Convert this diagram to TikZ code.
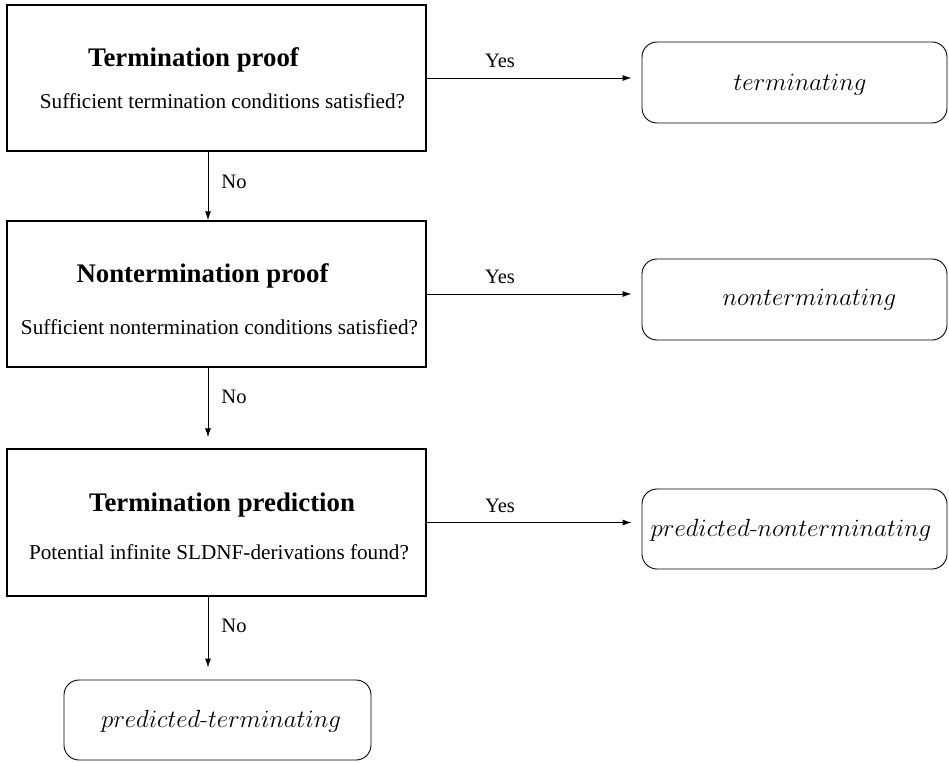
\documentclass[tikz,border=0pt]{standalone}
\usepackage{fontspec}
\setmainfont{Liberation Serif}
\usetikzlibrary{arrows.meta}
\newcommand{\lmhyph}{\mbox{\fontfamily{lmr}\selectfont -}}
\begin{document}
\begin{tikzpicture}[x=1pt,y=-1pt,
  procbox/.style={draw, line width=1.3pt, minimum width=419pt, minimum height=146pt, inner sep=0pt},
  resbox/.style={draw, line width=0.9pt, rounded corners=15pt, minimum width=305pt, minimum height=81pt, inner sep=0pt},
  titletext/.style={font=\fontsize{26.8}{32}\selectfont\bfseries, inner sep=0pt},
  subtext/.style={font=\fontsize{21.2}{25}\selectfont, inner sep=0pt},
  restext/.style={font=\fontsize{25.2}{30}\selectfont, inner sep=0pt},
  lbl/.style={font=\fontsize{20.5}{24}\selectfont, inner sep=0pt},
  arr/.style={-{Latex[length=9pt,width=6pt]}, line width=0.9pt}]
\useasboundingbox (0,0) rectangle (949,762);
% process boxes
\node[procbox] (b1) at (216.5,78) {};
\node[procbox] (b2) at (216.5,294) {};
\node[procbox, minimum height=147pt] (b3) at (216.5,522.5) {};
\node[titletext] (t1) at (193.5,60) {Termination proof};
\node[subtext] (s1) at (222.5,101) {Sufficient termination conditions satisfied?};
\node[titletext] (t2) at (202.5,276) {Nontermination proof};
\node[subtext] (s2) at (219.5,327) {Sufficient nontermination conditions satisfied?};
\node[titletext] (t3) at (222,505) {Termination prediction};
\node[subtext] (s3) at (219,552) {Potential infinite SLDNF-derivations found?};
% result boxes
\node[resbox] (r1) at (794.5,82.5) {};
\node[resbox] (r2) at (794.5,299.5) {};
\node[resbox, minimum height=80pt] (r3) at (794.5,529) {};
\node[resbox, minimum width=307pt, minimum height=80pt] (r4) at (217.5,720) {};
\node[restext] (rt1) at (800,85) {$terminating$};
\node[restext] (rt2) at (809.5,300) {$nonterminating$};
\node[restext] (rt3) at (791,530) {$predicted\lmhyph nonterminating$};
\node[restext] (rt4) at (221,721) {$predicted\lmhyph terminating$};
% connectors
\draw[arr, shorten >=10pt] (b1.east) -- (r1.west |- b1.east);
\draw[arr, shorten >=10pt] (b2.east) -- (r2.west |- b2.east);
\draw[arr, shorten >=10pt] (b3.east) -- (r3.west |- b3.east);
\coordinate (c1) at (208,151);
\draw[arr] (b1.south -| c1) -- (b2.north -| c1);
\draw[arr, shorten >=11pt] (b2.south -| c1) -- (b3.north -| c1);
\draw[arr, shorten >=12pt] (b3.south -| c1) -- (r4.north -| c1);
% labels
\node[lbl] (y1) at (500,61) {Yes};
\node[lbl] (y2) at (500,277) {Yes};
\node[lbl] (y3) at (500,506) {Yes};
\node[lbl] (n1) at (234,182) {No};
\node[lbl] (n2) at (234,397) {No};
\node[lbl] (n3) at (234,626) {No};
\end{tikzpicture}
\end{document}
